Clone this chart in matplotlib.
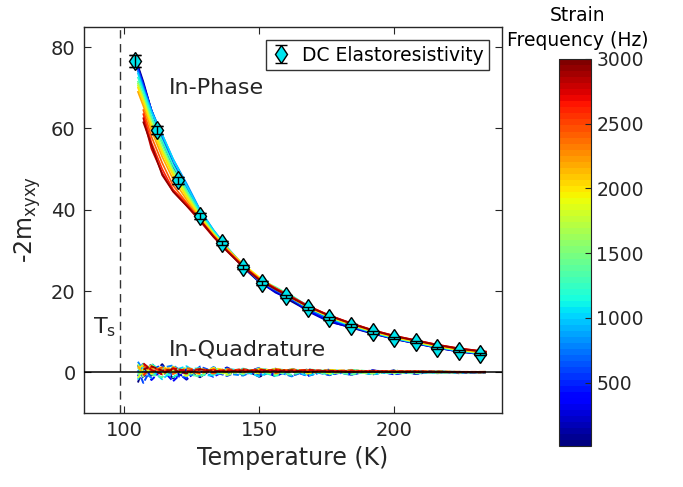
import numpy as np
import matplotlib
matplotlib.use("Agg")
import matplotlib.pyplot as plt
from matplotlib.colors import Normalize
from matplotlib.cm import ScalarMappable

nan = np.nan

# DC elastoresistivity
dc_T = [104, 112, 120, 128, 136, 144, 151, 160, 168, 176, 184, 192, 200, 208, 216, 224, 232]
dc_val = [76.5, 59.7, 47.2, 38.5, 31.8, 26.0, 21.9, 18.7, 15.75, 13.3, 11.5, 9.8, 8.4, 7.4, 6.0, 5.2, 4.5]
dc_err = [1.5, 1.0, 0.8, 0.7, 0.6, 0.5, 0.5, 0.4, 0.4, 0.4, 0.3, 0.3, 0.3, 0.3, 0.3, 0.3, 0.3]

# Strain-frequency measurements
freqs = [30, 200, 400, 600, 800, 1000, 1200, 1400, 1600, 1800, 2000, 2200, 2400, 2600, 2800, 2950]
curve_T = [105, 107, 110, 114, 118, 123, 128, 133, 138, 144, 150, 156, 162, 168, 176, 184, 192, 200, 208, 216, 224, 234]

in_phase = [
    [75.5, 71.5, 64.5, 57.0, 50.5, 44.5, 39.0, 34.3, 30.2, 25.8, 22.2, 19.8, 17.4, 15.2, 12.5, 11.0, 9.5, 8.2, 7.1, 6.0, 5.1, 4.3],
    [75.0, 71.0, 64.5, 57.5, 51.0, 45.0, 39.2, 34.5, 30.4, 26.0, 22.3, 19.6, 17.8, 15.0, 12.4, 11.1, 9.6, 8.2, 7.1, 6.0, 5.1, 4.3],
    [74.8, 70.8, 64.5, 57.5, 51.0, 45.5, 39.5, 34.7, 30.5, 26.1, 22.4, 20.0, 18.2, 15.3, 12.8, 11.2, 9.7, 8.3, 7.2, 6.1, 5.2, 4.4],
    [74.5, 70.5, 64.5, 58.0, 51.5, 46.0, 39.8, 34.8, 30.6, 26.2, 22.6, 20.2, 18.0, 15.6, 13.1, 11.3, 9.7, 8.3, 7.2, 6.1, 5.2, 4.4],
    [74.0, 70.0, 64.5, 58.5, 52.5, 46.5, 40.0, 35.0, 30.8, 26.4, 22.7, 20.3, 18.1, 15.7, 13.2, 11.4, 9.8, 8.4, 7.3, 6.2, 5.3, 4.5],
    [73.5, 69.5, 64.0, 58.5, 52.5, 46.0, 39.8, 35.0, 30.7, 26.3, 22.5, 20.4, 18.6, 16.5, 13.4, 11.5, 9.9, 8.4, 7.3, 6.2, 5.3, 4.5],
    [72.5, 69.0, 63.0, 57.0, 51.0, 45.0, 39.2, 34.6, 30.6, 26.3, 22.8, 20.6, 18.9, 16.3, 13.5, 11.6, 9.9, 8.5, 7.4, 6.3, 5.4, 4.6],
    [71.5, 68.0, 62.5, 56.0, 50.0, 44.5, 38.8, 34.3, 30.5, 26.2, 22.9, 21.0, 18.8, 16.0, 13.6, 11.7, 10.0, 8.6, 7.4, 6.3, 5.4, 4.6],
    [71.0, 67.5, 61.5, 55.0, 49.5, 44.0, 38.6, 34.2, 30.4, 26.2, 22.8, 20.5, 18.4, 16.0, 13.6, 11.7, 10.0, 8.6, 7.5, 6.4, 5.5, 4.7],
    [70.5, 67.0, 61.0, 54.5, 49.0, 43.5, 38.4, 34.1, 30.4, 26.3, 23.0, 20.6, 18.3, 16.0, 13.7, 11.8, 10.1, 8.7, 7.5, 6.4, 5.5, 4.7],
    [70.0, 66.5, 60.5, 54.0, 48.5, 43.2, 38.2, 34.0, 30.5, 26.6, 23.4, 20.7, 18.3, 16.1, 13.7, 11.8, 10.1, 8.7, 7.6, 6.5, 5.6, 4.8],
    [69.0, 65.5, 59.5, 53.0, 47.5, 42.5, 37.8, 33.8, 30.3, 26.3, 23.0, 20.5, 18.4, 16.2, 13.8, 11.9, 10.2, 8.8, 7.7, 6.6, 5.7, 4.9],
    [nan, 64.5, 58.0, 51.5, 46.0, 41.8, 37.5, 33.6, 30.1, 26.2, 23.0, 20.6, 18.5, 16.3, 13.9, 12.0, 10.3, 8.9, 7.8, 6.7, 5.8, 5.0],
    [nan, 63.5, 56.5, 50.0, 45.0, 41.5, 37.5, 33.5, 30.0, 26.1, 22.9, 20.7, 18.6, 16.4, 14.0, 12.1, 10.4, 9.0, 7.9, 6.8, 5.9, 5.1],
    [nan, 62.5, 55.0, 49.0, 44.5, 41.0, 37.2, 33.3, 29.9, 26.0, 22.8, 20.6, 18.5, 16.3, 14.0, 12.1, 10.4, 9.0, 7.9, 6.8, 5.9, 5.1],
    [nan, 61.5, 56.0, 48.5, 44.5, 41.0, 37.5, 33.4, 29.8, 25.9, 22.7, 20.4, 18.3, 16.2, 13.9, 12.0, 10.3, 8.9, 7.8, 6.7, 5.8, 5.0],
]

in_quad = [
    [-2.5, 1.2, -0.8, 2.0, -1.5, 0.6, -1.2, 1.0, -0.5, 0.8, -1.1, 0.7, -0.9, 0.8, -0.6, 0.6, -0.5, 0.5, -0.4, 0.3, -0.2, 0.0],
    [1.8, -1.5, 2.2, -0.6, 0.9, -1.8, 1.1, -0.4, 1.2, -0.7, 0.8, -1.0, 0.9, -0.6, 0.7, -0.6, 0.5, -0.4, 0.3, -0.2, 0.1, 0.0],
    [-1.0, 2.4, -1.9, 0.7, -2.2, 0.9, 0.3, -1.1, 0.6, -0.2, 1.1, -0.7, 0.4, -0.9, 0.6, -0.4, 0.5, -0.5, 0.3, 0.3, -0.2, 0.1],
    [0.5, -2.6, 1.0, 1.6, -0.8, -1.3, 1.4, 0.2, -0.9, 0.7, -0.6, 0.9, -0.8, 0.5, -0.7, 0.5, -0.4, 0.4, -0.3, 0.2, 0.0, -0.1],
    [2.6, 0.4, -1.4, 1.1, 1.7, -0.5, -0.9, 1.3, -0.3, -0.8, 0.9, 0.3, -1.0, 0.6, 0.2, -0.6, 0.4, 0.2, -0.3, 0.2, 0.1, 0.0],
    [-1.8, 1.6, 0.6, -1.7, 0.4, 1.5, -0.6, -0.8, 0.9, 0.3, -1.0, 0.7, 0.5, -0.8, 0.5, 0.3, -0.5, 0.3, 0.2, -0.2, 0.1, 0.0],
    [1.2, -0.9, 2.0, 0.3, -1.2, 0.8, 1.0, -0.6, 0.2, 0.9, 0.2, -0.9, 0.7, 0.3, -0.5, 0.6, 0.2, -0.3, 0.3, 0.0, -0.1, 0.1],
    [-0.6, 2.1, -0.5, -1.2, 1.4, -0.2, -1.1, 0.9, 0.5, -0.5, 1.0, 0.1, -0.6, 0.7, 0.3, -0.5, 0.4, 0.0, -0.2, 0.2, 0.0, 0.1],
    [2.0, -1.1, 1.3, 0.9, -0.3, 1.2, -0.4, 0.6, -0.7, 0.5, 0.4, -0.5, 0.8, -0.2, 0.6, 0.1, -0.3, 0.4, 0.1, -0.1, 0.1, 0.0],
    [-1.4, 0.8, 1.7, -0.4, 0.9, -0.9, 0.8, 0.4, -0.3, 0.6, -0.3, 0.9, 0.0, 0.5, -0.3, 0.4, 0.3, -0.1, 0.2, 0.1, 0.0, 0.1],
    [0.9, 1.8, -0.3, 1.4, 0.2, 0.7, -0.5, 1.1, 0.4, -0.1, 0.8, 0.4, 0.6, -0.3, 0.6, 0.3, 0.1, 0.3, 0.0, 0.2, 0.1, 0.0],
    [1.5, -0.4, 1.1, 0.5, 1.3, -0.2, 0.9, 0.2, 0.7, 0.3, 0.1, 0.8, 0.3, 0.6, 0.1, 0.4, 0.3, 0.1, 0.3, 0.1, 0.1, 0.1],
    [nan, 1.6, 0.2, 1.2, -0.4, 1.0, 0.5, -0.3, 0.8, 0.2, 0.8, -0.2, 0.7, 0.4, 0.3, 0.5, 0.1, 0.3, 0.1, 0.2, 0.1, 0.0],
    [nan, -0.8, 1.4, 0.1, 0.9, 0.4, -0.2, 0.7, 0.3, 0.8, 0.0, 0.7, 0.3, 0.5, 0.4, 0.1, 0.4, 0.1, 0.3, 0.0, 0.1, 0.1],
    [nan, 2.2, 0.6, -0.5, 1.0, 0.3, 0.8, 0.1, 0.5, 0.2, 0.6, 0.4, 0.1, 0.6, 0.2, 0.3, 0.1, 0.3, 0.1, 0.1, 0.0, 0.1],
    [nan, 0.7, 1.5, 0.4, 0.6, -0.3, 0.7, 0.4, 0.2, 0.5, 0.3, 0.4, 0.5, 0.1, 0.4, 0.1, 0.3, 0.1, 0.2, 0.1, 0.1, 0.0],
]

T_s = 98.3
x_ticks = [100, 150, 200]
y_ticks = [0, 20, 40, 60, 80]
cb_ticks = [500, 1000, 1500, 2000, 2500, 3000]

plt.rcParams['font.family'] = ['DejaVu Sans']
txt = '#262626'

fig = plt.figure(figsize=(6.83, 4.87), dpi=100)
ax = fig.add_axes([0.123, 0.152, 0.612, 0.793])

cmap = matplotlib.colormaps['jet'].resampled(64)
norm = Normalize(vmin=10, vmax=3000)

for f, vals in zip(freqs, in_phase):
    ax.plot(curve_T, vals, color=cmap(norm(f)), lw=1.2, zorder=2)
for f, vals in zip(freqs, in_quad):
    ax.plot(curve_T, vals, color=cmap(norm(f)), lw=1.4, ls=(0, (3, 1.2)), zorder=2)

ax.axhline(0, color='black', lw=1.1, zorder=3)
ax.axvline(T_s, color='#333333', lw=1.0, ls=(0, (6, 4)), zorder=1)

h = ax.errorbar(dc_T, dc_val, yerr=dc_err, fmt='d', ms=9.5, mfc='#00e5ee', mec='black',
                mew=1.0, ecolor='black', elinewidth=1.0, capsize=4, capthick=1.0, zorder=4)
# error bars drawn again above markers (MATLAB look)
ax.errorbar(dc_T, dc_val, yerr=dc_err, fmt='none', ecolor='black', elinewidth=1.0,
            capsize=4, capthick=1.0, zorder=5)

leg = ax.legend([h], ['DC Elastoresistivity'], loc='upper right', fontsize=13.5,
                frameon=True, fancybox=False, edgecolor='black', handlelength=1.0,
                handletextpad=0.6, borderpad=0.3, borderaxespad=0.7)
leg.get_frame().set_linewidth(1.0)
for t in leg.get_texts():
    t.set_color('black')

ax.text(116.5, 70, 'In-Phase', fontsize=16, color=txt, va='center', ha='left')
ax.text(116.5, 5.7, 'In-Quadrature', fontsize=16, color=txt, va='center', ha='left')
ax.text(88.2, 11, r'T$_\mathregular{s}$', fontsize=16, color=txt, va='center', ha='left')

ax.set_xlim(85, 240)
ax.set_ylim(-10, 85)
ax.set_xticks(x_ticks)
ax.set_yticks(y_ticks)
ax.tick_params(direction='in', top=True, right=True, length=5, width=0.8,
               labelsize=14, colors=txt, pad=6)
for s in ax.spines.values():
    s.set_color(txt)
    s.set_linewidth(1.0)
ax.set_xlabel('Temperature (K)', fontsize=17, color=txt, labelpad=4)
ax.set_ylabel(r'-2m$_\mathregular{xyxy}$', fontsize=17, color=txt, labelpad=6)

cax = fig.add_axes([0.818, 0.084, 0.047, 0.795])
sm = ScalarMappable(norm=norm, cmap=cmap)
cb = fig.colorbar(sm, cax=cax, ticks=cb_ticks)
cb.outline.set_edgecolor(txt)
cb.outline.set_linewidth(0.8)
cax.tick_params(direction='in', length=4, width=0.8, labelsize=13.5, colors=txt, pad=4)
fig.text(0.846, 0.968, 'Strain', fontsize=13.5, color='black', ha='center', va='center')
fig.text(0.846, 0.917, 'Frequency (Hz)', fontsize=13.5, color='black', ha='center', va='center')

fig.savefig('out.png', dpi=100)
